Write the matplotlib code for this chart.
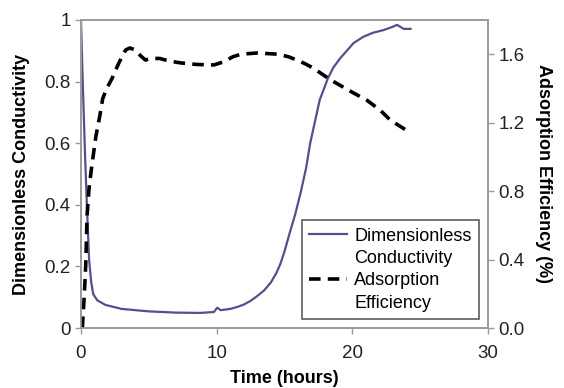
import matplotlib
matplotlib.use("Agg")
from matplotlib import pyplot as plt
from matplotlib.lines import Line2D

plt.rcParams['font.family'] = ['Liberation Sans', 'DejaVu Sans']

# dimensionless conductivity vs time
t_cond = [0, 0.1, 0.3, 0.45, 0.6, 0.75, 0.9, 1.2, 1.8, 3, 5, 7, 8.8, 9.8,
          10.05, 10.3, 11, 11.5, 12, 12.5, 13, 13.5, 14, 14.4, 14.7, 15,
          15.4, 15.8, 16.2, 16.6, 16.9, 17.3, 17.6, 18.2, 18.6, 19.1, 19.6,
          20.1, 20.8, 21.5, 22.3, 23.0, 23.3, 23.8, 24.3]
cond = [1.0, 0.84, 0.56, 0.38, 0.22, 0.15, 0.11, 0.09, 0.075, 0.062, 0.054,
        0.05, 0.049, 0.052, 0.066, 0.058, 0.062, 0.068, 0.076, 0.088, 0.104,
        0.122, 0.148, 0.178, 0.208, 0.248, 0.31, 0.37, 0.44, 0.52, 0.6,
        0.68, 0.74, 0.81, 0.845, 0.875, 0.9, 0.925, 0.945, 0.958, 0.967,
        0.978, 0.984, 0.971, 0.971]

# adsorption efficiency (%) vs time
t_eff = [0.1, 0.25, 0.35, 0.45, 0.6, 0.8, 1.1, 1.4, 1.6, 1.9, 2.3, 2.8,
         3.3, 3.6, 4.0, 4.4, 4.75, 5.2, 5.8, 6.5, 7.35, 8.5, 9.8, 10.5,
         11.2, 11.8, 13, 14.5, 15.3, 15.9, 16.5, 17.1, 18.4, 20.1, 21.1,
         22.1, 22.8, 24.3]
eff = [0.0, 0.2, 0.37, 0.66, 0.82, 0.95, 1.12, 1.245, 1.34, 1.4, 1.46, 1.55,
       1.625, 1.636, 1.625, 1.59, 1.566, 1.575, 1.575, 1.56, 1.549, 1.54,
       1.537, 1.555, 1.585, 1.6, 1.607, 1.6, 1.585, 1.566, 1.545, 1.52,
       1.45, 1.373, 1.33, 1.27, 1.215, 1.14]

left_ticks = [0, 0.2, 0.4, 0.6, 0.8, 1]
left_labels = ['0', '0.2', '0.4', '0.6', '0.8', '1']
right_ticks = [0.0, 0.4, 0.8, 1.2, 1.6]
right_labels = ['0.0', '0.4', '0.8', '1.2', '1.6']
x_ticks = [0, 10, 20, 30]

purple = '#5e4a8c'

fig = plt.figure(figsize=(5.64, 3.88), dpi=100)
ax = fig.add_axes([0.1436, 0.1546, 0.7214, 0.794])
ax2 = ax.twinx()

ax.plot(t_cond, cond, color=purple, linewidth=1.6)
ax2.plot(t_eff, eff, color='black', linewidth=2.6, dashes=(3.2, 2.0))

ax.set_xlim(0, 30)
ax.set_ylim(0, 1)
ax2.set_ylim(0, 1.8)
ax.set_xticks(x_ticks)
ax.set_yticks(left_ticks)
ax.set_yticklabels(left_labels)
ax2.set_yticks(right_ticks)
ax2.set_yticklabels(right_labels)

for a in (ax, ax2):
    for s in a.spines.values():
        s.set_color('#9a9a9a')
        s.set_linewidth(1.2)
    a.tick_params(colors='#9a9a9a', labelcolor='#222222', labelsize=13.5,
                  length=4, width=1)
ax.tick_params(axis='x', pad=8)

ax.set_xlabel('Time (hours)', fontsize=13, fontweight='bold', labelpad=6)
ax.set_ylabel('Dimensionless Conductivity', fontsize=13, fontweight='bold',
              labelpad=10)
ax2.set_ylabel('Adsorption Efficiency (%)', fontsize=13, fontweight='bold',
               rotation=-90, labelpad=20)

# two-line labels with the handle next to the first line
blank = Line2D([], [], color='none')
handles = [Line2D([], [], color=purple, linewidth=1.6), blank,
           Line2D([], [], color='black', linewidth=2.6, dashes=(3.2, 2.0)),
           blank]
labels = ['Dimensionless', 'Conductivity', 'Adsorption', 'Efficiency']
leg = ax2.legend(handles, labels, loc='lower right', fontsize=13,
                 frameon=True, fancybox=False, handlelength=2.1,
                 borderaxespad=0.5, labelspacing=0.3, handletextpad=0.4,
                 borderpad=0.4)
leg.get_frame().set_edgecolor('#333333')
leg.get_frame().set_linewidth(1.2)

fig.savefig('out.png', dpi=100)
